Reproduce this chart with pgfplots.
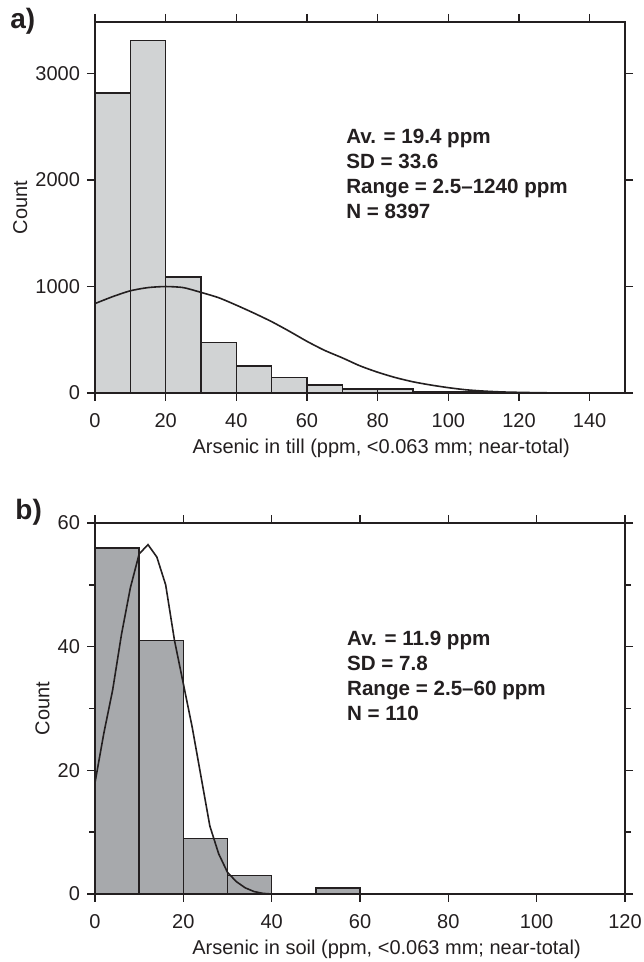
\documentclass[border=0pt]{standalone}
\usepackage{fontspec}
\setmainfont{Liberation Sans}
\usepackage{pgfplots}
\pgfplotsset{compat=1.18}
\definecolor{barA}{RGB}{209,211,212}
\definecolor{barB}{RGB}{167,169,172}
\definecolor{ink}{RGB}{35,31,32}
\pgfplotsset{
  hist/.style={
    scale only axis, width=265pt, height=185.5pt,
    axis line style={ink, line width=1pt},
    every tick/.style={ink, line width=0.8pt},
    tick align=outside,
    major tick length=4pt, minor tick length=3pt,
    ticklabel style={font=\fontsize{10}{11}\selectfont, text=ink},
    xticklabel style={anchor=north, inner sep=0pt},
    xticklabel shift=6pt,
    label style={font=\fontsize{10}{11}\selectfont, text=ink},
    ylabel style={inner sep=0.5pt},
    /pgf/number format/assume math mode=true,
    /pgf/number format/set thousands separator={},
    xmin=0, ymin=0,
    axis on top,
    clip=false,
  }
}
\begin{document}
\begin{tikzpicture}
\useasboundingbox (0,0) rectangle (321.5pt,481pt);
% ---------- panel a ----------
\begin{axis}[hist, at={(47.5pt,284.5pt)}, anchor=south west,
  xmax=150, ymax=3485,
  xtick={0,20,...,140}, ytick={0,1000,2000,3000},
  xlabel={Arsenic in till (ppm, <0.063 mm; near-total)},
  xlabel style={at={(axis description cs:0.54,0)}, anchor=base, yshift=-30.5pt, inner sep=0pt},
  ylabel={Count}]
\addplot[ybar interval, fill=barA, draw=ink, line width=0.8pt] coordinates {
(0,2820) (10,3310) (20,1090) (30,475) (40,256) (50,147) (60,75) (70,37)
(80,37) (90,15) (100,10) (110,6) (120,5) (130,0)};
\addplot[ink, line width=0.8pt, smooth, tension=0.4] coordinates {
(0,840) (5,905) (10,960) (15,990) (20,1000) (25,990) (30,945) (35,895)
(40,825) (45,750) (50,670) (55,580) (60,485) (65,400) (70,330) (75,255)
(80,195) (85,145) (90,105) (95,75) (100,50) (105,30) (110,18) (115,10)
(120,6) (125,3) (130,1)};
\node[anchor=north west, inner sep=0pt, align=left, text=ink,
  font=\fontsize{10.3}{12.5}\selectfont\bfseries] at (axis cs:71,2481)
  {Av. = 19.4 ppm\\SD = 33.6\\Range = 2.5--1240 ppm\\N = 8397};
\end{axis}
% ---------- panel b ----------
\begin{axis}[hist, at={(47.5pt,34pt)}, anchor=south west,
  xmax=120, ymax=60,
  xtick={0,20,...,120}, ytick={0,20,40,60}, minor ytick={10,30,50},
  xlabel={Arsenic in soil (ppm, <0.063 mm; near-total)},
  xlabel style={at={(axis description cs:0.55,0)}, anchor=base, yshift=-30.5pt, inner sep=0pt},
  ylabel={Count}]
\addplot[ybar interval, fill=barB, draw=ink, line width=0.8pt] coordinates {
(0,56) (10,41) (20,9) (30,3) (40,0) (50,1) (60,0)};
\addplot[ink, line width=0.8pt] coordinates {
(0,18) (2,26) (4,33) (6,42) (8,49.5) (10,55) (12,56.5) (14,54.5) (16,50)
(18,41) (20,34) (22,27) (24,19) (26,11) (28,6.5) (30,3.5) (32,2) (34,1)
(36,0.4) (38,0.1) (40,0) (120,0)};
\node[anchor=north west, inner sep=0pt, align=left, text=ink,
  font=\fontsize{10.3}{12.5}\selectfont\bfseries] at (axis cs:57,42.5)
  {Av. = 11.9 ppm\\SD = 7.8\\Range = 2.5--60 ppm\\N = 110};
\end{axis}
\node[anchor=base west, inner sep=0pt, text=ink, font=\fontsize{14}{16}\selectfont\bfseries] at (5pt,466.5pt) {a)};
\node[anchor=base west, inner sep=0pt, text=ink, font=\fontsize{14}{16}\selectfont\bfseries] at (7.5pt,221pt) {b)};
\end{tikzpicture}
\end{document}
